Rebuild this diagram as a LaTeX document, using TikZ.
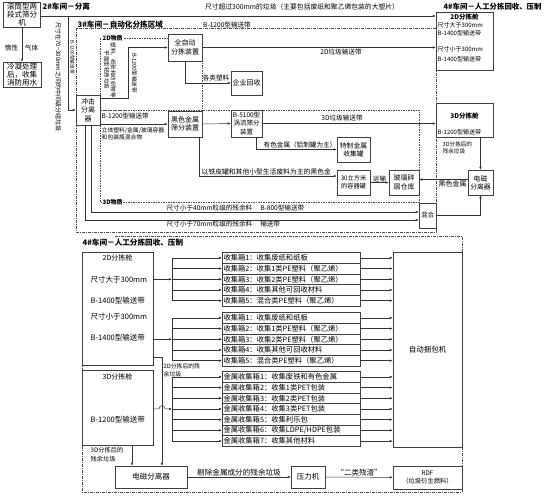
\documentclass[tikz,border=0pt]{standalone}
\usepackage{fontspec}
\setmainfont{Noto Sans CJK SC}
\usetikzlibrary{arrows.meta, positioning}
\newcommand{\fsz}[2]{\fontsize{#1}{#2}\selectfont}
\tikzset{
  >={Latex[length=3pt,width=2.4pt]},
  flow/.style={-{Latex[length=3pt,width=2.4pt]}, draw=black!80, line width=0.45pt},
  wire/.style={draw=black!80, line width=0.45pt},
  box/.style={draw=black!75, line width=0.5pt, fill=white, inner sep=0.5pt,
              align=center, font=\fsz{7}{8.5}},
  cbox/.style={draw=black!75, line width=0.5pt, fill=white, inner sep=0pt, outer sep=0pt,
               minimum width=138pt, minimum height=10.7pt, text width=135pt, align=left,
               font=\fsz{7.3}{8}},
  framedd/.style={draw=black!70, line width=0.5pt,
                  dash pattern=on 3pt off 1.2pt on 0.6pt off 1.2pt},
  regiond/.style={draw=black!70, line width=0.5pt, dash pattern=on 1.5pt off 1pt},
  head/.style={font=\bfseries\fsz{7.6}{9}, inner sep=0.5pt},
  lbl/.style={font=\fsz{6.6}{7.5}, inner sep=0.5pt},
  note/.style={font=\fsz{6}{7}, inner sep=0.5pt, align=left},
}

\begin{document}
\begin{tikzpicture}[x=1pt, y=-1pt]
\useasboundingbox (0,0) rectangle (545,496);

% ---- frames (drawn first, boxes cover them) ----
\draw[framedd] (76,28) rectangle (436,232);
\draw[regiond] (100,38) rectangle (202,110);
\draw[regiond] (100,110) rectangle (419,202);
\draw[framedd] (115,236) -| (462,492) -| (82,252);

% ---- 2# separation ----
\node[box, minimum width=37pt, minimum height=25pt, font=\fsz{7.5}{8}] (sep) at (22,14.5) {滚筒型两\\段式筛分\\机};
\node[head, anchor=west] (h2) at (42,7) {2\#车间－分离};
\node[box, minimum width=38pt, minimum height=25pt, font=\fsz{7.5}{8}] (cond) at (22,74.5) {冷凝处理\\后，收集\\消防用水};
\node[lbl] (inert) at (11.5,48) {惰性};
\node[lbl] (gas) at (31.5,48) {气体};
\node[lbl, font=\fsz{6.8}{7.5}] (bigT) at (302,7) {尺寸超过300mm的垃圾（主要包括废纸和聚乙烯包装的大塑片）};
\node[note, rotate=-90] (midT) at (58.5,77) {尺寸在70\textasciitilde300mm之间的中间级分组垃圾};
\node[note, rotate=-90, font=\fsz{4.6}{5}] (beltA) at (72.5,57) {B-1200型输送带};
\coordinate (j1) at (68,16);

% ---- 3# automatic sorting ----
\node[head, anchor=south west] (h3) at (77,28.5) {3\#车间－自动化分拣区域};
\node[lbl, anchor=south] (beltB) at (227,28.5) {B-1200型输送带};
\node[head, anchor=west, fill=white, font=\bfseries\itshape\fsz{6}{7}] (z2d) at (102,38) {2D物质};
\node[head, anchor=west, fill=white, font=\bfseries\itshape\fsz{6}{7}] (z3d) at (102,202) {3D物质};

\node[box, minimum width=24pt, minimum height=30pt] (imp) at (88,110) {冲击\\分离\\器};
\node[box, minimum width=34pt, minimum height=27pt] (auto) at (185,47.5) {全自动\\分拣装置};
\node[box, minimum width=31pt, minimum height=24pt] (firm) at (246.5,83) {企业回收};
\node[note, rotate=-90, align=center, font=\fsz{5.5}{6.5}] (flatT) at (110,70) {塑料、纸张和纺织物等\\平面型轻质垃圾};
\node[note, rotate=-90, font=\fsz{5.5}{6}] (beltC) at (134.5,73) {B-1200型输送带};
\node[lbl, anchor=south] (plast) at (216,82) {各类塑料};
\node[lbl, anchor=north] (belt2d) at (341,48) {2D垃圾输送带};

\node[note, anchor=west, font=\fsz{6.5}{7}] (beltD) at (101,116) {B-1200型输送带};
\node[box, minimum width=34pt, minimum height=26pt] (blk) at (185,124) {黑色金属\\筛分装置};
\node[note, anchor=north west, font=\fsz{5.8}{7.2}] (mixT) at (101,127) {立体塑料/金属/玻璃容器\\和包装瓶混合物};
\node[box, minimum width=31pt, minimum height=27pt, font=\fsz{6.5}{8.2}] (eddy) at (246.5,123.5) {B-5100型\\涡流筛分\\装置};
\node[lbl, anchor=south] (belt3d) at (342,122) {3D垃圾输送带};
\node[box, minimum width=33pt, minimum height=25pt, font=\fsz{6.8}{8}] (spec) at (353.5,149.5) {特制金属\\收集罐};
\node[lbl, anchor=south] (alu) at (300,148.5) {有色金属（铝制罐为主）};
\node[box, minimum width=33pt, minimum height=25pt, font=\fsz{6.2}{8}] (tank) at (353.5,182.5) {30立方米\\的容器罐};
\node[lbl, anchor=south west, font=\fsz{6.8}{7.5}] (iron) at (201,176) {以铁皮罐和其他小型生活废料为主的黑色金};
\node[box, minimum width=30pt, minimum height=25pt] (glass) at (404,182.5) {玻璃碎\\屑仓库};
\node[box, minimum width=17pt, minimum height=25pt, font=\fsz{6.5}{8}] (mix) at (427.5,215.5) {混合};
\node[lbl, anchor=south west] (r40T) at (166,211.5) {尺寸小于40mm粒级的残余料\hspace{8pt}B-800型输送带};
\node[lbl, anchor=north west] (r70T) at (166,220.5) {尺寸小于70mm粒级的残余料\hspace{8pt}输送带};
\coordinate (k1) at (128,98);
\coordinate (k2) at (199,176);
\coordinate (r40) at (91,212);
\coordinate (r70) at (85,220);

% ---- 4# upper: sorting cabins ----
\node[head, anchor=west, font=\bfseries\fsz{7.4}{9}] (h4a) at (443,7) {4\#车间－人工分拣回收、压制};
\node[box, minimum width=57pt, minimum height=58pt] (u2d) at (464.5,41) {};
\node[head, font=\bfseries\fsz{6.5}{7}] (u2dT) at (464.5,17.5) {2D分拣舱};
\node[note, anchor=west] (u2dA) at (437,25.5) {尺寸大于300mm};
\node[note, anchor=west] (u2dB) at (437,33) {B-1400型输送带};
\node[note, anchor=west] (u2dC) at (437,49) {尺寸小于300mm};
\node[note, anchor=west] (u2dD) at (437,59.5) {B-1400型输送带};
\node[box, minimum width=57pt, minimum height=34pt] (u3d) at (464.5,120) {};
\node[head, font=\bfseries\fsz{6.5}{7}] (u3dT) at (464.5,116) {3D分拣舱};
\node[note, anchor=west] (u3dA) at (437,132.5) {B-1200型输送带};
\node[box, minimum width=25pt, minimum height=25pt, font=\fsz{6.8}{8}] (mag1) at (480.5,182.5) {电磁\\分离器};
\node[note, anchor=north west, font=\fsz{5.6}{7}] (res3a) at (442,141) {3D分拣后的\\残余垃圾};
\node[lbl, anchor=north, font=\fsz{7}{8}] (ferr) at (452.5,180) {黑色金属};

% ---- 4# lower: manual sorting, baling ----
\node[head, anchor=west] (h4b) at (82,243) {4\#车间－人工分拣回收、压制};
\node[box, minimum width=71pt, minimum height=113pt] (d2) at (117.5,308.5) {};
\node[lbl, font=\fsz{7}{8}] (d2T) at (117.5,258) {2D分拣舱};
\node[lbl, anchor=west, font=\fsz{7.5}{8}] (d2A) at (90,280) {尺寸大于300mm};
\node[lbl, anchor=west, font=\fsz{7.5}{8}] (d2B) at (90,301) {B-1400型输送带};
\node[lbl, anchor=west, font=\fsz{7.5}{8}] (d2C) at (90,317) {尺寸小于300mm};
\node[lbl, anchor=west, font=\fsz{7.5}{8}] (d2D) at (90,338) {B-1400型输送带};
\node[box, minimum width=71pt, minimum height=75pt] (d3) at (117.5,407.5) {};
\node[lbl, font=\fsz{7}{8}] (d3T) at (117.5,377) {3D分拣舱};
\node[lbl, anchor=west, font=\fsz{7.5}{8}] (d3A) at (90,420) {B-1200型输送带};

\node[cbox] (a1) at (291,257.85) {收集箱1：收集废纸和纸板};
\node[cbox, below=0pt of a1] (a2) {收集箱2：收集1类PE塑料（聚乙烯）};
\node[cbox, below=0pt of a2] (a3) {收集箱3：收集2类PE塑料（聚乙烯）};
\node[cbox, below=0pt of a3] (a4) {收集箱4：收集其他可回收材料};
\node[cbox, below=0pt of a4] (a5) {收集箱5：混合类PE塑料（聚乙烯）};
\node[cbox] (b1) at (291,317.85) {收集箱1：收集废纸和纸板};
\node[cbox, below=0pt of b1] (b2) {收集箱2：收集1类PE塑料（聚乙烯）};
\node[cbox, below=0pt of b2] (b3) {收集箱3：收集2类PE塑料（聚乙烯）};
\node[cbox, below=0pt of b3] (b4) {收集箱4：收集其他可回收材料};
\node[cbox, below=0pt of b4] (b5) {收集箱5：混合类PE塑料（聚乙烯）};
\node[cbox] (m1) at (291,376.85) {金属收集箱1：收集废铁和有色金属};
\node[cbox, below=0pt of m1] (m2) {金属收集箱2：收集1类PET包装};
\node[cbox, below=0pt of m2] (m3) {金属收集箱3：收集2类PET包装};
\node[cbox, below=0pt of m3] (m4) {金属收集箱4：收集3类PET包装};
\node[cbox, below=0pt of m4] (m5) {金属收集箱5：收集利乐包};
\node[cbox, below=0pt of m5] (m6) {金属收集箱6：收集LDPE/HDPE包装};
\node[cbox, below=0pt of m6] (m7) {金属收集箱7：收集其他材料};

\node[box, minimum width=69pt, minimum height=195pt, font=\fsz{7.5}{8}] (pack) at (427.5,349.5) {自动捆包机};
\node[note, anchor=north west, font=\fsz{5.8}{8}] (res2) at (163,362.5) {2D分拣后的残\\余垃圾};
\node[note, anchor=north west, font=\fsz{6.2}{8.5}] (res3b) at (90,447) {3D分拣后的\\残余垃圾};
\node[box, minimum width=72pt, minimum height=22pt, font=\fsz{7.5}{8}] (magL) at (151,477) {电磁分离器};
\node[box, minimum width=34pt, minimum height=22pt, font=\fsz{7.5}{8}] (press) at (308,477) {压力机};
\node[box, minimum width=69pt, minimum height=23pt, font=\fsz{6.3}{8}] (rdf) at (427.5,477.5) {RDF\\（垃圾衍生燃料）};
\coordinate (bus) at (172,300);
\coordinate (k3) at (162,357);
\coordinate (k4) at (132,445);
\coordinate (hop) at (k3 |- m4);

% ---- connectors: 2# and 3# ----
\draw[flow] (sep.south) -- (sep.south |- cond.north);
\draw[wire] (sep.east |- j1) -- (j1);
\draw[flow] (j1) -- (j1 -| u2d.west);
\draw[flow] (j1) |- (imp.west);
\draw[flow] (imp.east |- k1) -- (k1) |- (auto.west);
\draw[flow] (auto.east) -- (auto.east -| u2d.west);
\draw[flow] (auto.south) |- (firm.west);
\draw[flow] (imp.east |- blk.west) -- (blk.west);
\draw[flow] (blk.east) -- (eddy.west);
\draw[flow] (eddy.east) -- (eddy.east -| u3d.west);
\draw[flow] ([xshift=10pt]eddy.south) |- (spec.west);
\draw[flow] (blk.south -| k2) -- (k2) -- (k2 -| tank.west);
\draw[flow] (tank.east) -- node[lbl, above] (move) {运输} (glass.west);
\draw[flow] (u3d.south -| mag1.north) -- (mag1.north);
\draw[flow] ([yshift=3pt]mag1.west) -- ([yshift=3pt]mag1.west -| glass.east);
\draw[flow] (mix.east) -| (mag1.south);
\draw[flow] (imp.south -| r40) -- (r40) -- (r40 -| mix.west);
\draw[flow] (imp.south -| r70) -- (r70) -- (r70 -| mix.west);

% ---- connectors: 4# ----
\draw[flow] (d2.east |- a3) -- (bus |- a3);
\draw[wire] (bus |- a1) -- (bus |- a5);
\draw[flow] (d2.east |- b3) -- (bus |- b3);
\draw[wire] (bus |- b1) -- (bus |- b5);
\draw[wire] (d2.east |- k3) -- (k3);
\draw[flow] (k3) -- (k3 |- magL.north);
\draw[flow] (d3.east |- hop) -- ([xshift=-3pt]hop)
   .. controls ([xshift=-3pt,yshift=4.5pt]hop) and ([xshift=3pt,yshift=4.5pt]hop) .. ([xshift=3pt]hop)
   -- (bus |- hop);
\draw[wire] (bus |- m1) -- (bus |- m7);
\foreach \n in {a1,a2,a3,a4,a5,b1,b2,b3,b4,b5,m1,m2,m3,m4,m5,m6,m7} {
  \draw[flow] (bus |- \n.west) -- (\n.west);
  \draw[flow] (\n.east) -- (\n.east -| pack.west);
}
\draw[flow] (k4) -- (k4 |- magL.north);
\draw[flow] (magL) -- node[lbl, above, font=\fsz{7.6}{8}] (strip) {剔除金属成分的残余垃圾} (press);
\draw[flow] (press) -- node[lbl, above, font=\fsz{7.5}{8}] (slag) {“二类残渣”} (rdf);

\end{tikzpicture}
\end{document}
